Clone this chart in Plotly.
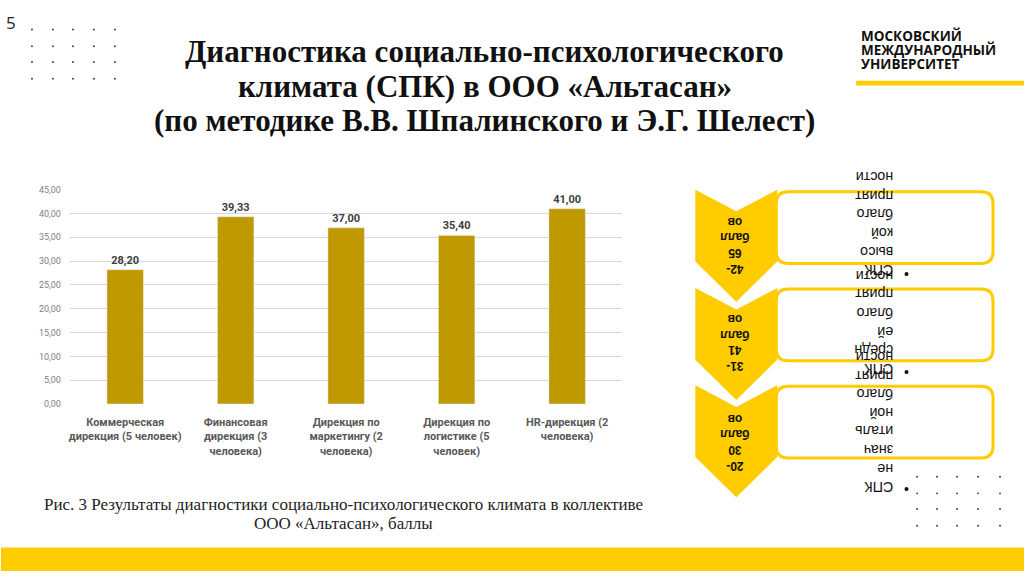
import plotly.graph_objects as go

W, H = 1024, 576


def X(px):
    return px / W


def Y(py):
    return 1 - py / H


# ---------------- data ----------------
categories = [
    "Коммерческая<br>дирекция (5 человек)",
    "Финансовая<br>дирекция (3<br>человека)",
    "Дирекция по<br>маркетингу (2<br>человека)",
    "Дирекция по<br>логистике (5<br>человек)",
    "HR-дирекция (2<br>человека)",
]
values = [28.20, 39.33, 37.00, 35.40, 41.00]
y_ticks = [0, 5, 10, 15, 20, 25, 30, 35, 40, 45]

title_lines = [
    "Диагностика социально-психологического",
    "климата (СПК) в ООО «Альтасан»",
    "(по методике В.В. Шпалинского и Э.Г. Шелест)",
]
caption_lines = [
    "Рис. 3 Результаты диагностики социально-психологического климата в коллективе",
    "ООО «Альтасан», баллы",
]
logo_lines = ["МОСКОВСКИЙ", "МЕЖДУНАРОДНЫЙ", "УНИВЕРСИТЕТ"]
chevron_labels = [
    ["42-", "65", "балл", "ов"],
    ["31-", "41", "балл", "ов"],
    ["20-", "30", "балл", "ов"],
]
box_lines = [
    ["СПК", "высо", "кой", "благо", "прият", "ности"],
    ["СПК", "средн", "ей", "благо", "прият", "ности"],
    ["СПК", "не", "знач", "италь", "ной", "благо", "прият", "ности"],
]

YELLOW = "#FFCC00"
BAR = "#BF9900"

fig = go.Figure()
fig.add_trace(go.Bar(
    x=categories, y=values,
    marker_color=BAR, width=0.33,
    texttemplate="%{y:.2f}", textposition="outside",
    textfont=dict(family="Roboto", size=11, color="#404040", weight="bold"),
    cliponaxis=False, hoverinfo="skip",
))

shapes = []
annotations = []

# bottom band & logo underline
shapes.append(dict(type="rect", xref="paper", yref="paper", x0=0, x1=1, y0=Y(576), y1=Y(552),
                   fillcolor=YELLOW, line_width=0, layer="below"))
shapes.append(dict(type="rect", xref="paper", yref="paper", x0=X(856), x1=1, y0=Y(82), y1=Y(77),
                   fillcolor=YELLOW, line_width=0, layer="below"))

# dot grids
def dot_grid(xs, ys):
    for yy in ys:
        for xx in xs:
            shapes.append(dict(type="circle", xref="paper", yref="paper",
                               x0=X(xx - 1), x1=X(xx + 1), y0=Y(yy + 1), y1=Y(yy - 1),
                               fillcolor="#444444", line_width=0))

dot_grid([31, 52, 72, 93, 114], [25, 42, 58, 75])
dot_grid([917, 937, 957, 978, 1000], [480, 497, 513, 530])

# rounded rectangles (boxes)
def rounded_rect(x0, y0, x1, y1, r):
    p = (f"M {X(x0 + r)},{Y(y0)} L {X(x1 - r)},{Y(y0)} Q {X(x1)},{Y(y0)} {X(x1)},{Y(y0 + r)} "
         f"L {X(x1)},{Y(y1 - r)} Q {X(x1)},{Y(y1)} {X(x1 - r)},{Y(y1)} "
         f"L {X(x0 + r)},{Y(y1)} Q {X(x0)},{Y(y1)} {X(x0)},{Y(y1 - r)} "
         f"L {X(x0)},{Y(y0 + r)} Q {X(x0)},{Y(y0)} {X(x0 + r)},{Y(y0)} Z")
    return p

box_tops = [190, 289, 388]
for top in box_tops:
    shapes.append(dict(type="path", xref="paper", yref="paper",
                       path=rounded_rect(776, top, 993, top + 73, 12),
                       fillcolor="white", line=dict(color=YELLOW, width=3)))

# chevrons
chev_tops = [188, 288, 387]
for top in chev_tops:
    xl, xc, xr = 695, 736, 777
    path = (f"M {X(xl)},{Y(top)} L {X(xc)},{Y(top + 22)} L {X(xr)},{Y(top)} "
            f"L {X(xr)},{Y(top + 73)} L {X(xc)},{Y(top + 114)} L {X(xl)},{Y(top + 73)} Z")
    shapes.append(dict(type="path", xref="paper", yref="paper", path=path,
                       fillcolor=YELLOW, line_width=0))

# title
for line, yy in zip(title_lines, [47, 83, 118]):
    annotations.append(dict(text=line, x=X(484), y=Y(yy), xref="paper", yref="paper",
                            showarrow=False, xanchor="center", yanchor="middle",
                            font=dict(family="Liberation Serif", size=31, color="#111111", weight="bold")))

# page number
annotations.append(dict(text="5", x=X(3), y=Y(18), xref="paper", yref="paper", showarrow=False,
                        xanchor="left", yanchor="middle",
                        font=dict(family="Open Sans", size=17, color="#222222")))

# logo
for line, yy in zip(logo_lines, [32, 46, 60]):
    annotations.append(dict(text=line, x=X(859), y=Y(yy), xref="paper", yref="paper", showarrow=False,
                            xanchor="left", yanchor="middle",
                            font=dict(family="Open Sans", size=13.5, color="#111111", weight="bold")))

# caption
for line, yy in zip(caption_lines, [508, 528]):
    annotations.append(dict(text=line, x=X(343), y=Y(yy), xref="paper", yref="paper", showarrow=False,
                            xanchor="center", yanchor="middle", align="center",
                            font=dict(family="Liberation Serif", size=17, color="#222222")))

# chevron labels (upside-down)
for lab, cy in zip(chevron_labels, [244, 344, 445]):
    annotations.append(dict(text="<br>".join(lab), x=X(735), y=Y(cy), xref="paper", yref="paper",
                            showarrow=False, xanchor="center", yanchor="middle", align="center",
                            textangle=180,
                            font=dict(family="Liberation Sans", size=12, color="#111111", weight="bold")))

# box texts (upside-down, overflowing as in the source slide)
for lines, cy, by in zip(box_lines, [223, 323, 424.5], [274, 373, 493]):
    annotations.append(dict(text="<br>".join(lines), x=X(895), y=Y(cy), xref="paper", yref="paper",
                            showarrow=False, xanchor="right", yanchor="middle", align="left",
                            textangle=180,
                            font=dict(family="Liberation Sans", size=14.3, color="#111111")))
    annotations.append(dict(text="•", x=X(906), y=Y(by), xref="paper", yref="paper",
                            showarrow=False, xanchor="center", yanchor="middle",
                            font=dict(family="Liberation Sans", size=14, color="#111111")))

fig.update_layout(
    width=W, height=H,
    margin=dict(l=0, r=0, t=0, b=0),
    paper_bgcolor="white", plot_bgcolor="white",
    separators=", ",
    showlegend=False,
    shapes=shapes,
    annotations=annotations,
    xaxis=dict(domain=[X(69), X(622)], showgrid=False, zeroline=False, showline=False,
               tickfont=dict(family="Roboto", size=11, color="#595959", weight="bold"),
               ticklabelstandoff=10, fixedrange=True),
    yaxis=dict(domain=[Y(406), Y(188)], range=[0, 45], tickvals=y_ticks, tickformat=".2f",
               showgrid=True, gridcolor="#D9D9D9", gridwidth=1, zeroline=False, showline=False,
               tickfont=dict(family="Roboto", size=9, color="#7F7F7F"),
               ticklabelstandoff=8, fixedrange=True),
)

fig.write_html("out.html", post_script="document.body.style.margin='0';",
               config={"displayModeBar": False})
